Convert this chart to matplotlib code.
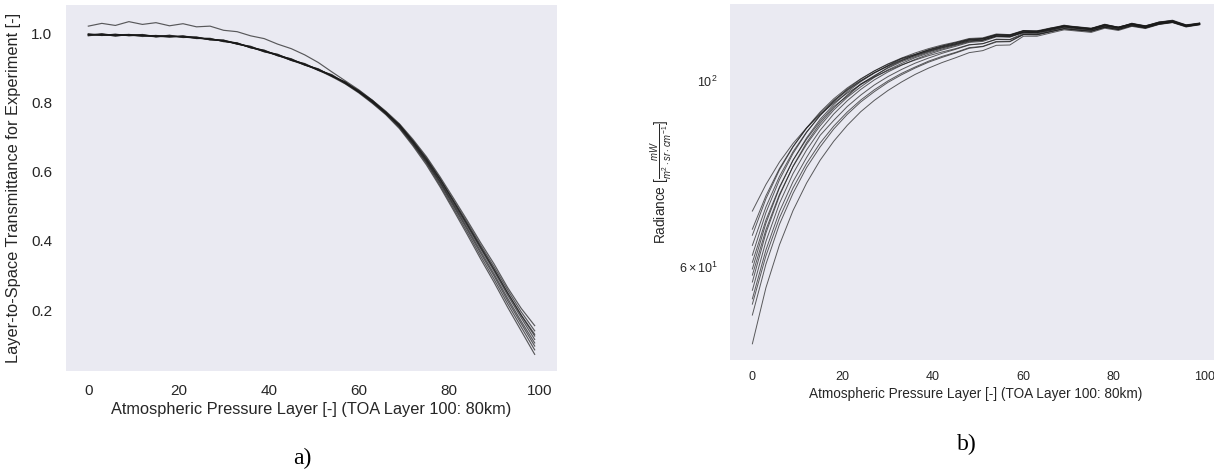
import matplotlib
matplotlib.use("Agg")
import matplotlib.pyplot as plt

# layer index grid shared by every profile (TOA = layer 100)
layers = list(range(0, 100, 3))

# layer-to-space transmittance, one list per experiment
trans_curves = [
    [1.020, 1.028, 1.022, 1.033, 1.025, 1.030, 1.021, 1.027, 1.018, 1.020, 1.008, 1.004, 0.992, 0.984, 0.968, 0.955, 0.937, 0.915, 0.888, 0.862, 0.836, 0.806, 0.772, 0.735, 0.688, 0.636, 0.578, 0.514, 0.449, 0.383, 0.318, 0.250, 0.186, 0.130],
    [0.998, 0.993, 0.997, 0.992, 0.996, 0.989, 0.994, 0.987, 0.989, 0.980, 0.980, 0.968, 0.962, 0.946, 0.939, 0.921, 0.912, 0.893, 0.880, 0.856, 0.834, 0.806, 0.774, 0.738, 0.693, 0.643, 0.585, 0.523, 0.460, 0.395, 0.333, 0.265, 0.205, 0.155],
    [0.992, 0.997, 0.991, 0.996, 0.990, 0.993, 0.988, 0.992, 0.984, 0.985, 0.975, 0.972, 0.957, 0.951, 0.934, 0.926, 0.907, 0.897, 0.875, 0.859, 0.829, 0.805, 0.767, 0.736, 0.689, 0.639, 0.580, 0.517, 0.454, 0.388, 0.325, 0.258, 0.195, 0.140],
    [0.996, 0.994, 0.996, 0.993, 0.994, 0.990, 0.991, 0.989, 0.986, 0.982, 0.977, 0.969, 0.961, 0.948, 0.938, 0.923, 0.911, 0.894, 0.877, 0.858, 0.831, 0.802, 0.771, 0.732, 0.687, 0.635, 0.577, 0.513, 0.448, 0.381, 0.317, 0.249, 0.185, 0.125],
    [0.994, 0.998, 0.993, 0.994, 0.992, 0.992, 0.990, 0.991, 0.988, 0.981, 0.979, 0.971, 0.959, 0.950, 0.936, 0.925, 0.909, 0.896, 0.876, 0.858, 0.833, 0.801, 0.771, 0.731, 0.684, 0.632, 0.572, 0.508, 0.444, 0.377, 0.312, 0.243, 0.178, 0.115],
    [0.997, 0.995, 0.995, 0.996, 0.993, 0.989, 0.993, 0.988, 0.986, 0.984, 0.976, 0.971, 0.958, 0.948, 0.936, 0.922, 0.909, 0.894, 0.879, 0.855, 0.831, 0.803, 0.769, 0.733, 0.683, 0.630, 0.570, 0.504, 0.438, 0.370, 0.304, 0.234, 0.168, 0.105],
    [0.993, 0.996, 0.992, 0.995, 0.994, 0.990, 0.989, 0.990, 0.987, 0.982, 0.978, 0.968, 0.960, 0.947, 0.937, 0.924, 0.908, 0.895, 0.876, 0.856, 0.830, 0.800, 0.768, 0.729, 0.680, 0.627, 0.566, 0.500, 0.433, 0.364, 0.298, 0.227, 0.161, 0.096],
    [0.996, 0.993, 0.995, 0.993, 0.992, 0.993, 0.991, 0.989, 0.985, 0.983, 0.977, 0.970, 0.958, 0.949, 0.935, 0.922, 0.910, 0.892, 0.877, 0.854, 0.829, 0.799, 0.766, 0.727, 0.678, 0.624, 0.561, 0.494, 0.426, 0.356, 0.289, 0.218, 0.151, 0.085],
    [0.995, 0.997, 0.993, 0.994, 0.995, 0.991, 0.990, 0.991, 0.986, 0.981, 0.979, 0.969, 0.959, 0.946, 0.936, 0.921, 0.908, 0.893, 0.874, 0.853, 0.827, 0.797, 0.764, 0.724, 0.674, 0.619, 0.556, 0.488, 0.419, 0.348, 0.280, 0.208, 0.140, 0.072],
]

# upwelling radiance per layer, one list per experiment
rad_curves = [
    [70.0, 75.3, 80.1, 84.3, 88.0, 91.3, 94.2, 96.8, 99.1, 101.2, 103.0, 104.6, 106.0, 107.3, 108.4, 109.4, 110.6, 110.9, 112.2, 112.1, 113.7, 113.7, 114.6, 115.6, 115.1, 114.8, 116.0, 115.3, 116.5, 115.8, 117.0, 117.6, 116.3, 116.9],
    [66.6, 73.0, 78.7, 83.6, 87.9, 91.6, 94.9, 97.7, 100.2, 102.4, 104.2, 105.9, 107.3, 108.6, 109.7, 110.7, 111.8, 112.0, 113.2, 113.1, 114.3, 114.4, 115.0, 116.1, 115.6, 115.3, 116.4, 115.8, 116.9, 116.1, 117.4, 117.8, 116.6, 117.0],
    [65.5, 72.4, 78.4, 83.5, 88.0, 91.9, 95.3, 98.2, 100.7, 102.9, 104.8, 106.4, 107.6, 109.1, 110.2, 111.2, 112.2, 112.5, 113.7, 113.5, 114.9, 114.6, 115.7, 116.3, 116.1, 115.5, 116.9, 115.8, 117.3, 116.2, 117.6, 118.2, 116.5, 117.3],
    [63.7, 70.8, 77.0, 82.4, 87.0, 91.0, 94.5, 97.5, 100.1, 102.4, 104.4, 106.1, 107.6, 108.9, 110.0, 110.9, 112.0, 112.3, 113.5, 113.4, 114.6, 114.8, 115.4, 116.6, 115.8, 115.7, 116.6, 116.1, 117.0, 116.5, 117.4, 117.9, 116.8, 117.1],
    [62.0, 69.7, 76.3, 82.0, 86.9, 91.1, 94.7, 97.9, 100.6, 102.9, 104.9, 106.6, 108.1, 109.4, 110.5, 111.4, 112.5, 112.7, 113.9, 113.7, 115.0, 114.9, 115.8, 116.5, 116.2, 115.7, 117.0, 116.0, 117.3, 116.5, 117.7, 118.3, 116.8, 117.4],
    [60.8, 68.3, 74.8, 80.5, 85.3, 89.6, 93.3, 96.0, 99.2, 101.6, 103.7, 105.5, 107.0, 108.4, 109.6, 110.6, 111.7, 112.0, 113.3, 113.2, 114.5, 114.5, 115.3, 116.4, 115.7, 115.4, 116.5, 115.9, 116.9, 116.3, 117.3, 118.0, 116.5, 117.2],
    [59.7, 67.7, 74.6, 80.5, 85.6, 90.1, 93.8, 97.1, 99.9, 102.3, 104.4, 106.5, 107.7, 109.0, 110.2, 111.2, 112.3, 112.5, 113.7, 113.6, 114.9, 114.7, 115.7, 116.7, 116.0, 115.6, 116.9, 116.0, 117.2, 116.4, 117.7, 118.1, 116.7, 117.3],
    [58.7, 66.5, 73.3, 79.1, 84.1, 88.5, 92.4, 95.7, 98.5, 101.1, 103.2, 105.0, 106.7, 108.1, 109.3, 110.4, 111.5, 111.9, 113.2, 113.0, 114.5, 114.3, 115.4, 116.2, 115.8, 115.2, 116.6, 115.7, 117.0, 116.1, 117.4, 117.8, 116.5, 117.1],
    [57.6, 65.9, 73.0, 79.2, 84.5, 89.1, 92.9, 96.3, 99.3, 101.4, 103.9, 105.8, 107.4, 108.7, 109.9, 110.9, 112.1, 112.3, 113.6, 113.5, 114.8, 114.8, 115.5, 116.5, 116.0, 115.6, 116.8, 116.1, 117.1, 116.4, 117.6, 118.1, 116.6, 117.3],
    [56.3, 64.4, 71.5, 77.6, 82.8, 87.4, 91.4, 94.8, 97.8, 100.4, 102.6, 104.5, 106.2, 107.7, 109.0, 110.1, 111.3, 111.6, 113.0, 112.9, 114.4, 114.3, 115.2, 116.1, 115.7, 115.2, 116.4, 115.7, 116.9, 116.0, 117.3, 117.8, 116.4, 117.0],
    [55.0, 62.9, 69.9, 75.9, 81.1, 86.2, 89.8, 93.3, 96.3, 99.0, 101.3, 103.3, 105.1, 106.6, 108.0, 109.2, 110.5, 110.9, 112.3, 112.2, 114.1, 114.0, 115.0, 115.9, 115.4, 115.0, 116.2, 115.5, 116.8, 115.9, 117.2, 117.7, 116.4, 117.0],
    [54.2, 61.9, 68.7, 74.6, 79.8, 84.4, 88.4, 91.9, 95.0, 97.7, 100.1, 102.2, 104.0, 105.7, 107.1, 108.3, 109.7, 110.1, 111.6, 111.6, 113.8, 113.8, 114.7, 115.6, 115.2, 114.8, 116.0, 115.3, 116.6, 115.9, 117.1, 117.7, 116.3, 116.9],
    [52.6, 60.5, 67.5, 73.5, 78.9, 83.5, 87.7, 91.3, 94.5, 97.2, 99.7, 101.8, 103.7, 105.4, 106.8, 108.1, 109.5, 110.0, 111.4, 111.5, 113.7, 113.6, 114.6, 115.5, 115.1, 114.7, 116.0, 115.3, 116.5, 115.8, 117.0, 117.6, 116.2, 116.9],
    [48.6, 56.7, 63.8, 70.1, 75.6, 80.5, 84.8, 88.6, 92.0, 94.9, 97.5, 99.8, 101.9, 103.7, 105.3, 106.7, 108.2, 108.8, 110.4, 110.5, 113.2, 113.2, 114.2, 115.2, 114.8, 114.4, 115.7, 115.0, 116.3, 115.6, 116.9, 117.5, 116.1, 116.8],
]

xlabel = "Atmospheric Pressure Layer [-] (TOA Layer 100: 80km)"

plt.rcParams.update({
    "font.family": ["Liberation Sans", "DejaVu Sans"],
    "mathtext.fontset": "custom",
    "mathtext.rm": "Liberation Sans",
    "mathtext.it": "Liberation Sans:italic",
    "mathtext.bf": "Liberation Sans:bold",
    "axes.facecolor": "#EAEAF2",
    "text.color": "#262626",
    "axes.labelcolor": "#262626",
    "xtick.color": "#262626",
    "ytick.color": "#262626",
})

fig = plt.figure(figsize=(12.14, 4.73), dpi=100)

# (a) transmittance
ax1 = fig.add_axes([66 / 1214, 102 / 473, 491 / 1214, 366 / 473])
for c in trans_curves:
    ax1.plot(layers, c, color="#1a1a1a", lw=0.85, alpha=0.7)
ax1.set_yticks([0.2, 0.4, 0.6, 0.8, 1.0])
ax1.set_xticks([0, 20, 40, 60, 80, 100])
ax1.tick_params(length=0, labelsize=11)
ax1.tick_params(axis="y", pad=10)
ax1.tick_params(axis="x", pad=9)
ax1.set_xlabel(xlabel, fontsize=11.8, labelpad=3)
ax1.set_ylabel("Layer-to-Space Transmittance for Experiment [-]", fontsize=11.8)
ax1.yaxis.set_label_coords(-0.092, 0.5)

# (b) radiance, log axis
ax2 = fig.add_axes([730 / 1214, 113 / 473, 492 / 1214, 356 / 473])
for c in rad_curves:
    ax2.plot(layers, c, color="#1a1a1a", lw=0.7, alpha=0.7)
ax2.set_yscale("log")
ax2.set_xticks([0, 20, 40, 60, 80, 100])
ax2.tick_params(which="both", length=0, labelsize=9)
ax2.tick_params(axis="y", which="both", pad=9)
ax2.tick_params(axis="x", pad=8)
ax2.set_xlabel(xlabel, fontsize=9.8, labelpad=3)
ax2.set_ylabel(r"Radiance $[\frac{mW}{m^2 \cdot sr \cdot cm^{-1}}]$", fontsize=9.8)
ax2.yaxis.set_label_coords(-0.112, 0.5)

for ax in (ax1, ax2):
    for s in ax.spines.values():
        s.set_visible(False)

fig.text(302 / 1214, 1 - 458 / 473, "a)", ha="center", va="center",
         family=["Liberation Serif", "DejaVu Serif"], fontsize=17, color="black")
fig.text(967 / 1214, 1 - 444 / 473, "b)", ha="center", va="center",
         family=["Liberation Serif", "DejaVu Serif"], fontsize=17, color="black")

fig.savefig("out.png", dpi=100, facecolor="white")
